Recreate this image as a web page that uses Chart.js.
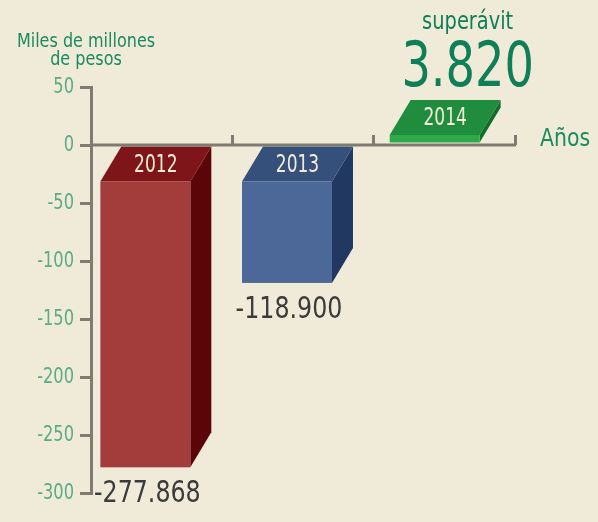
<!DOCTYPE html>
<html><head><meta charset="utf-8">
<script src="https://cdn.jsdelivr.net/npm/chart.js@4"></script>
<style>
html,body{margin:0;padding:0;background:#f0ebd9;}
#c{display:block;background:#f0ebd9;}
</style>
</head><body>
<canvas id="c" width="598" height="522"></canvas>
<script>
// ---- data ----
const years = ['2012', '2013', '2014'];
const balance = [-277.868, -118.9, 3.82];
const yTicks = [50, 0, -50, -100, -150, -200, -250, -300];
const yAxisTitle = ['Miles de millones', 'de pesos'];
const xAxisTitle = 'Años';
const surplusLabel = 'superávit';

// ---- styles ----
const frontColors = ['#a23d3b', '#4b6899', '#2fa947'];
const topColors = ['#7e1519', '#35507b', '#1f8d3d'];
const sideColors = ['#5b0509', '#213861', '#146c2b'];
const AXIS = '#7d7b72';
const TICK_GREEN = '#5aab86';
const TITLE_GREEN = '#1c8a5f';
const DARK_GREEN = '#0f7f58';
const VALUE_GRAY = '#3b3b3b';
const FACE_TEXT = '#f3ecd9';
const FAMILY = "'DejaVu Sans Condensed', 'DejaVu Sans', sans-serif";
const DX = 21, DEPTH = 35;

function fmt(v) { return (v < 0 ? '-' : '') + Math.abs(v).toFixed(3); }

function drawText(ctx, text, x, y, size, sx, color, align, baseline) {
  ctx.save();
  ctx.translate(x, y);
  ctx.scale(sx, 1);
  ctx.font = size + 'px ' + FAMILY;
  ctx.fillStyle = color;
  ctx.textAlign = align;
  ctx.textBaseline = baseline;
  ctx.fillText(text, 0, 0);
  ctx.restore();
}

const box3d = {
  id: 'box3d',
  afterDatasetsDraw(chart) {
    const { ctx, chartArea, scales: { x, y } } = chart;
    const y0 = y.getPixelForValue(0);
    const meta = chart.getDatasetMeta(0);
    ctx.save();
    meta.data.forEach((bar, i) => {
      const p = bar.getProps(['x', 'y', 'base', 'width'], true);
      const w = p.width;
      const v = balance[i];
      const left = p.x - (w + DX) / 2 - (v < 0 ? 6 : 0);
      const right = left + w;
      let fTop, fBot;
      if (v < 0) { fTop = p.base + DEPTH; fBot = p.y; }
      else { fTop = p.y; fBot = p.base - 1; }
      // side face
      ctx.fillStyle = sideColors[i];
      ctx.beginPath();
      ctx.moveTo(right, fTop); ctx.lineTo(right + DX, fTop - DEPTH);
      ctx.lineTo(right + DX, fBot - DEPTH); ctx.lineTo(right, fBot);
      ctx.closePath(); ctx.fill();
      // top face
      ctx.fillStyle = topColors[i];
      ctx.beginPath();
      ctx.moveTo(left, fTop); ctx.lineTo(left + DX, fTop - DEPTH);
      ctx.lineTo(right + DX, fTop - DEPTH); ctx.lineTo(right, fTop);
      ctx.closePath(); ctx.fill();
      // front face
      ctx.fillStyle = frontColors[i];
      ctx.fillRect(left, fTop, w, fBot - fTop);
      // year label on top face
      drawText(ctx, years[i], left + w / 2 + DX / 2, fTop - DEPTH / 2 + 1, 25, 0.76, FACE_TEXT, 'center', 'middle');
      // value labels
      if (v < 0) {
        drawText(ctx, fmt(v), left + w / 2 + 2, fBot + 12, 30, 0.88, VALUE_GRAY, 'center', 'top');
      } else {
        const cx = left + DX + w / 2 + 12;
        const base = fTop - DEPTH - 14;
        drawText(ctx, fmt(v), cx, base, 62, 0.83, DARK_GREEN, 'center', 'alphabetic');
        drawText(ctx, surplusLabel, cx, base - 57, 24, 0.9, DARK_GREEN, 'center', 'alphabetic');
      }
    });
    // x axis line at zero
    ctx.strokeStyle = AXIS; ctx.lineWidth = 3;
    ctx.beginPath(); ctx.moveTo(chartArea.left, y0); ctx.lineTo(chartArea.right, y0); ctx.stroke();
    // upward ticks at category boundaries
    for (let i = 0; i < years.length; i++) {
      const bx = Math.round(x.getPixelForValue(i + 0.5)) - 0.5;
      ctx.beginPath(); ctx.moveTo(bx, y0); ctx.lineTo(bx, y0 - 10); ctx.stroke();
    }
    // y tick labels
    y.ticks.forEach(t => {
      const label = (t.value < 0 ? '-' : '') + Math.abs(t.value);
      drawText(ctx, label, chartArea.left - 17, y.getPixelForValue(t.value) + 1, 21, 0.86, TICK_GREEN, 'right', 'middle');
    });
    // axis titles
    drawText(ctx, yAxisTitle[0], chartArea.left - 5, chartArea.top - 40, 20, 0.89, TITLE_GREEN, 'center', 'alphabetic');
    drawText(ctx, yAxisTitle[1], chartArea.left - 5, chartArea.top - 22, 20, 0.89, TITLE_GREEN, 'center', 'alphabetic');
    drawText(ctx, xAxisTitle, chartArea.right + 24, y0 + 1, 25, 0.91, TITLE_GREEN, 'left', 'alphabetic');
    ctx.restore();
  }
};

new Chart(document.getElementById('c'), {
  type: 'bar',
  data: {
    labels: years,
    datasets: [{
      data: balance,
      backgroundColor: 'rgba(0,0,0,0)',
      borderWidth: 0,
      categoryPercentage: 1,
      barPercentage: 0.635,
      minBarLength: 10
    }]
  },
  options: {
    responsive: false,
    animation: false,
    devicePixelRatio: 1,
    layout: { padding: { left: 0, right: 82, top: 87, bottom: 29 } },
    plugins: { legend: { display: false }, tooltip: { enabled: false } },
    scales: {
      x: { type: 'category', display: false, offset: true },
      y: {
        min: -300, max: 50,
        afterBuildTicks: (s) => { s.ticks = yTicks.slice().sort((a, b) => a - b).map(v => ({ value: v })); },
        afterFit: (s) => { s.width = 91; },
        ticks: { display: false },
        grid: { drawOnChartArea: false, drawTicks: true, tickLength: 11, color: AXIS, lineWidth: 3 },
        border: { display: true, color: AXIS, width: 3 }
      }
    }
  },
  plugins: [box3d]
});
</script>
</body></html>
